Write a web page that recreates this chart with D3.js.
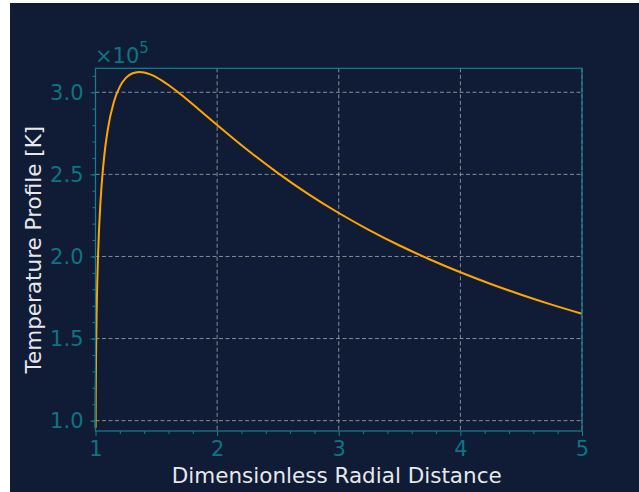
<!DOCTYPE html>
<html><head><meta charset="utf-8">
<script src="https://cdn.jsdelivr.net/npm/d3@7"></script>
<style>
html,body{margin:0;padding:0;background:#ffffff;}
svg{display:block;}
text{font-family:"DejaVu Sans",sans-serif;}
</style></head>
<body>
<svg id="chart" width="639" height="492"></svg>
<script>
// Data
const radius = [1.001, 1.002, 1.005, 1.01, 1.015, 1.02, 1.03, 1.04, 1.05, 1.07, 1.1, 1.15, 1.2, 1.25, 1.3, 1.36, 1.4, 1.45, 1.55, 1.6, 1.7, 1.85, 2.0, 2.25, 2.5, 2.75, 3.0, 3.25, 3.5, 3.75, 4.0, 4.25, 4.5, 4.75, 5.0];
const temperature = [95660, 113650, 142520, 168690, 185820, 198760, 217950, 232100, 243220, 259920, 276880, 293890, 303420, 308730, 311420, 312390, 312080, 310940, 306990, 304460, 298820, 289550, 280090, 264830, 250760, 238000, 226480, 216090, 206680, 198150, 190360, 183240, 176710, 170690, 165120];
const xTicks = [1, 2, 3, 4, 5];
const xTickLabels = ["1", "2", "3", "4", "5"];
const yTicks = [100000, 150000, 200000, 250000, 300000];
const yTickLabels = ["1.0", "1.5", "2.0", "2.5", "3.0"];
const xMinorTicks = [1.2,1.4,1.6,1.8,2.2,2.4,2.6,2.8,3.2,3.4,3.6,3.8,4.2,4.4,4.6,4.8];
const yMinorTicks = [100000,110000,120000,130000,140000,150000,160000,170000,180000,190000,200000,210000,220000,230000,240000,250000,260000,270000,280000,290000,300000,310000];
const xLabel = "Dimensionless Radial Distance";
const yLabel = "Temperature Profile [K]";
const offsetLabelBase = "×10";
const offsetLabelExp = "5";

const W = 639, H = 492;
const bg = "#101c35", teal = "#0e7383", spine = "#13808f", grid = "#9aa0a8";
const m = {left: 95.5, right: 582, top: 68.3, bottom: 431};

const svg = d3.select("#chart");
svg.append("rect").attr("x",0).attr("y",0).attr("width",W).attr("height",H).attr("fill","#ffffff");
svg.append("rect").attr("x",10).attr("y",3).attr("width",W-10).attr("height",H-3).attr("fill",bg);

const x = d3.scaleLinear().domain([1,5]).range([m.left, m.right]);
const y = d3.scaleLinear().domain([93700, 314600]).range([m.bottom, m.top]);

// grid
const g = svg.append("g");
g.selectAll(".gx").data(xTicks).join("line")
  .attr("x1",d=>x(d)).attr("x2",d=>x(d)).attr("y1",m.top).attr("y2",m.bottom)
  .attr("stroke",grid).attr("stroke-width",1).attr("stroke-dasharray","4,2.5").attr("opacity",0.85);
g.selectAll(".gy").data(yTicks).join("line")
  .attr("x1",m.left).attr("x2",m.right).attr("y1",d=>y(d)).attr("y2",d=>y(d))
  .attr("stroke",grid).attr("stroke-width",1).attr("stroke-dasharray","4,2.5").attr("opacity",0.85);

// line
const line = d3.line().x((d,i)=>x(radius[i])).y(d=>y(d)).curve(d3.curveMonotoneX);
svg.append("path").datum(temperature).attr("d",line)
  .attr("fill","none").attr("stroke","#ffa500").attr("stroke-width",2);

// axes
const xAxis = d3.axisBottom(x).tickValues(xTicks).tickFormat((d,i)=>xTickLabels[i]).tickSize(5).tickPadding(5);
const xAxisMinor = d3.axisBottom(x).tickValues(xMinorTicks).tickFormat("").tickSize(3);
const yAxis = d3.axisLeft(y).tickValues(yTicks).tickFormat((d,i)=>yTickLabels[i]).tickSize(5).tickPadding(7);
const yAxisMinor = d3.axisLeft(y).tickValues(yMinorTicks).tickFormat("").tickSize(3);

function style(sel){
  sel.select(".domain").remove();
  sel.selectAll("line").attr("stroke",spine).attr("stroke-width",1);
  sel.selectAll("text").attr("fill",teal).attr("font-size","21px").attr("font-family","DejaVu Sans");
}
svg.append("g").attr("transform",`translate(0,${m.bottom})`).call(xAxisMinor).call(style);
svg.append("g").attr("transform",`translate(0,${m.bottom})`).call(xAxis).call(style);
svg.append("g").attr("transform",`translate(${m.left},0)`).call(yAxisMinor).call(style);
svg.append("g").attr("transform",`translate(${m.left},0)`).call(yAxis).call(style);

// frame
svg.append("rect").attr("x",m.left).attr("y",m.top).attr("width",m.right-m.left).attr("height",m.bottom-m.top)
  .attr("fill","none").attr("stroke",spine).attr("stroke-width",1.2);

// labels
svg.append("text").attr("x",(m.left+m.right)/2 - 2).attr("y",483).attr("text-anchor","middle")
  .attr("fill","#e6e8ec").attr("font-size","21.5px").text(xLabel);
svg.append("text").attr("transform",`translate(40.5,${(m.top+m.bottom)/2}) rotate(-90)`).attr("text-anchor","middle")
  .attr("fill","#e6e8ec").attr("font-size","21.5px").text(yLabel);
const off = svg.append("text").attr("x",95).attr("y",62.5).attr("fill",teal).attr("font-size","21px");
off.append("tspan").text(offsetLabelBase);
off.append("tspan").attr("dy",-10).attr("font-size","15px").text(offsetLabelExp);
</script>
</body></html>
